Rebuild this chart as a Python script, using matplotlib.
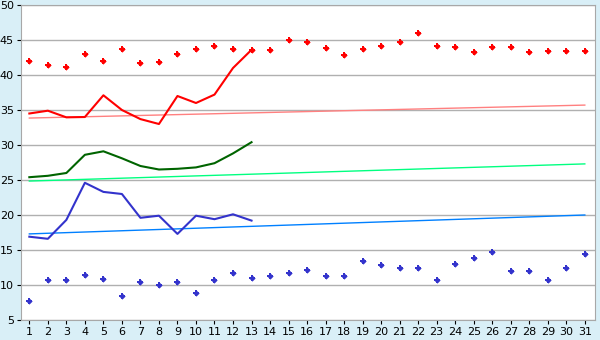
import matplotlib
matplotlib.use("Agg")
import matplotlib.pyplot as plt

# days of the month
days = list(range(1, 32))

# high markers (red) and low markers (blue), one per day
red_points = [42.0, 41.4, 41.1, 43.0, 42.0, 43.7, 41.7, 41.8, 43.0, 43.7,
              44.1, 43.7, 43.6, 43.6, 45.0, 44.7, 43.9, 42.9, 43.7, 44.1,
              44.7, 46.0, 44.1, 44.0, 43.3, 44.0, 44.0, 43.3, 43.4, 43.4, 43.4]
blue_points = [7.7, 10.7, 10.7, 11.4, 10.9, 8.4, 10.4, 10.0, 10.4, 8.9,
               10.7, 11.7, 11.0, 11.3, 11.7, 12.1, 11.3, 11.3, 13.4, 12.9,
               12.4, 12.4, 10.7, 13.0, 13.9, 14.7, 12.0, 12.0, 10.7, 12.4, 14.4]

# measured lines for the first 13 days
line_days = list(range(1, 14))
red_line = [34.5, 34.9, 33.95, 34.0, 37.1, 35.0, 33.7, 33.0, 37.0, 36.0, 37.2, 41.0, 43.6]
green_line = [25.4, 25.6, 26.0, 28.6, 29.1, 28.1, 27.0, 26.5, 26.6, 26.8, 27.4, 28.8, 30.4]
blue_line = [16.9, 16.6, 19.3, 24.6, 23.3, 23.0, 19.6, 19.9, 17.3, 19.9, 19.4, 20.1, 19.2]

# straight reference lines (start, end) across the month
trend_days = [1, 31]
red_trend = [33.85, 35.7]
green_trend = [24.85, 27.3]
blue_trend = [17.3, 20.0]

fig = plt.figure(figsize=(6, 3.4), dpi=100)
fig.patch.set_facecolor("#D9EFF7")
ax = fig.add_axes([21 / 600, 1 - 320 / 340, 574 / 600, 315 / 340])
ax.set_facecolor("white")

ax.plot(trend_days, red_trend, color="#FF8080", lw=1.0)
ax.plot(trend_days, green_trend, color="#00FF80", lw=1.0)
ax.plot(trend_days, blue_trend, color="#0080FF", lw=1.0)

ax.plot(line_days, red_line, color="#FF0000", lw=1.5)
ax.plot(line_days, green_line, color="#006400", lw=1.5)
ax.plot(line_days, blue_line, color="#3333CC", lw=1.5)

# diamond with a small cross on top gives the chunky pixel marker
for pts, col in [(red_points, "#FF0000"), (blue_points, "#3333CC")]:
    ax.plot(days, pts, ls="none", marker="D", ms=3.2, mew=0, color=col)
    ax.plot(days, pts, ls="none", marker="P", ms=4.8, mew=0, color=col)

ax.set_xlim(0.55, 31.55)
ax.set_ylim(5, 50)
ax.set_xticks(days)
ax.set_yticks(range(5, 51, 5))
ax.yaxis.grid(True, color="#B0B0B0", lw=1.0)
ax.set_axisbelow(True)
for s in ax.spines.values():
    s.set_color("#A8A8A8")
ax.tick_params(axis="both", labelsize=8, length=3, color="black", pad=2)

fig.savefig("out.png", dpi=100, facecolor=fig.get_facecolor())
